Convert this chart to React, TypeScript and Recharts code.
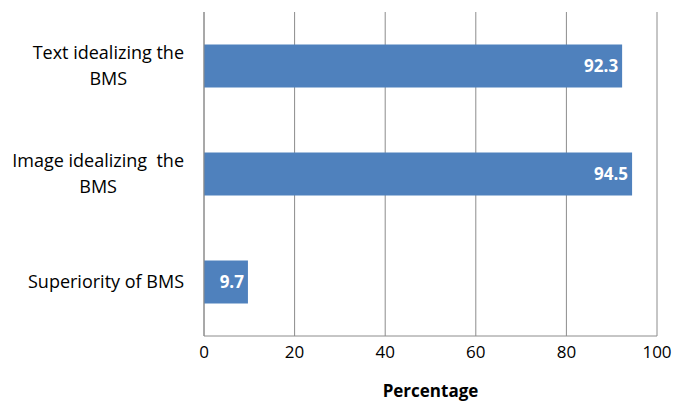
import React from 'react';
import { BarChart, Bar, XAxis, YAxis, CartesianGrid, LabelList } from 'recharts';

const categories = [
  ['Text idealizing the', 'BMS'],
  ['Image idealizing  the', 'BMS'],
  ['Superiority of BMS'],
];
const percentages = [92.3, 94.5, 9.7];
const xTicks = [0, 20, 40, 60, 80, 100];

const FONT = '"Open Sans", sans-serif';
const BAR_COLOR = '#4F81BD';
const GRID_COLOR = '#8C8C8C';

const data = categories.map((lines, i) => ({
  name: lines.join(' '),
  lines,
  value: percentages[i],
}));

let ctx: CanvasRenderingContext2D | null = null;
const textWidth = (s: string, font: string) => {
  if (!ctx) ctx = document.createElement('canvas').getContext('2d');
  if (!ctx) return s.length * 8;
  ctx.font = font;
  return ctx.measureText(s).width;
};

// category label: lines centred on each other, block right-aligned to the axis
const CategoryTick = ({ x, y, index }: any) => {
  const lines = data[index].lines;
  const fontSize = 18;
  const lineH = 26;
  const widest = Math.max(...lines.map((l) => textWidth(l, `${fontSize}px ${FONT}`)));
  const cx = x - 12 - widest / 2;
  const startY = y - ((lines.length - 1) * lineH) / 2;
  return (
    <text textAnchor="middle" fontSize={fontSize} fontFamily={FONT} fill="#000" style={{ whiteSpace: 'pre' }}>
      {lines.map((l, i) => (
        <tspan key={i} x={cx} y={startY + i * lineH} dy="0.35em">
          {l}
        </tspan>
      ))}
    </text>
  );
};

export default function App() {
  return (
    <div style={{ position: 'absolute', left: 0, top: 0, width: 678, height: 401, background: '#fff' }}>
      <BarChart
        width={678}
        height={401}
        data={data}
        layout="vertical"
        margin={{ top: 12, right: 21, bottom: 0, left: 0 }}
        barCategoryGap="30%"
      >
        <CartesianGrid horizontal={false} stroke={GRID_COLOR} strokeWidth={1} />
        <XAxis
          type="number"
          domain={[0, 100]}
          ticks={xTicks}
          interval={0}
          height={65}
          axisLine={{ stroke: GRID_COLOR }}
          tickLine={false}
          tickMargin={4}
          tick={{ fontSize: 17, fill: '#000', fontFamily: FONT }}
          label={{
            value: 'Percentage',
            position: 'insideBottom',
            offset: 4,
            fill: '#000',
            fontSize: 17,
            fontWeight: 'bold',
            fontFamily: FONT,
          }}
        />
        <YAxis
          type="category"
          dataKey="name"
          width={204}
          axisLine={{ stroke: GRID_COLOR }}
          tickLine={false}
          tick={<CategoryTick />}
        />
        <Bar dataKey="value" fill={BAR_COLOR} isAnimationActive={false}>
          <LabelList
            dataKey="value"
            position="insideRight"
            offset={4}
            fill="#fff"
            fontSize={17}
            fontWeight="bold"
            fontFamily={FONT}
          />
        </Bar>
      </BarChart>
    </div>
  );
}
